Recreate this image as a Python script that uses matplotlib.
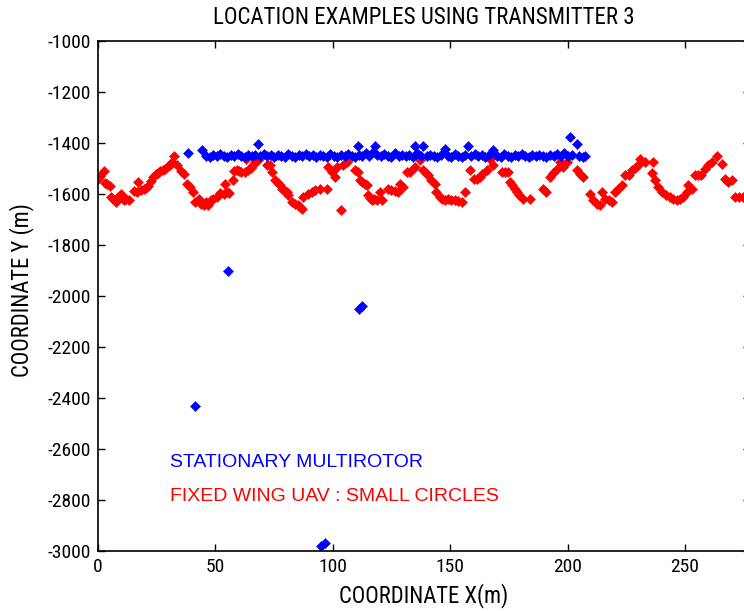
import matplotlib
matplotlib.use("Agg")
import matplotlib.pyplot as plt
from matplotlib import font_manager

names = {f.name for f in font_manager.fontManager.ttflist}
NARROW = next((n for n in ['Roboto Condensed', 'Liberation Sans Narrow', 'Arial Narrow',
                           'Archivo Narrow', 'PT Sans Narrow', 'Liberation Sans'] if n in names),
              'DejaVu Sans')
REG = 'Liberation Sans'

# Fixed wing UAV estimated positions (red)
red_x = [0, 1, 2.5, 3, 4, 5, 5.5, 6.5, 7.5, 8.5, 10, 11, 12, 13, 15.5, 16.5, 17, 18.5, 19.5, 20.5,
         21.5, 22.5, 23.5, 24.5, 25.5, 26.5, 27.5, 28.5, 29.5, 30.5, 31.5, 32.5, 33.5, 35.5, 36.5, 38,
         39, 40.5, 41.3, 43, 44, 45, 46, 47, 48, 49, 50.5, 52, 53.5, 54.1, 55, 56, 57.6, 58, 59, 60,
         61, 62.5, 63, 64, 65, 66.2, 67, 68, 69, 72, 73.3, 74, 75.4, 76.5, 77.5, 78.2, 79.3, 80.4, 81,
         82.5, 84, 85, 86, 87, 87.5, 89.6, 91, 92.5, 94.6, 97.4, 98.1, 99.5, 101, 102, 103.3, 104.5,
         106, 109.5, 110.9, 111.5, 112.5, 113.7, 114.4, 115, 116, 116.6, 117.5, 119, 120, 121, 123.6,
         125, 126.5, 127.9, 128.6, 130, 131.4, 132.9, 135, 137, 138.6, 139.7, 140.7, 142, 143.5, 144,
         145.6, 146.7, 147.8, 149, 150.5, 152, 153.5, 154.9, 156.3, 158.5, 160, 161.3, 162.7, 163.4,
         165.5, 167, 168.4, 172, 173.5, 174.8, 175.5, 176.5, 177.6, 178.3, 179.5, 181, 184, 189.6, 191,
         192.5, 193.8, 195.3, 196.8, 198, 199.6, 203.9, 205.3, 206.7, 209.5, 211, 212.5, 214, 214.5,
         216, 217.5, 218.8, 220, 221.5, 223, 224.5, 226, 227.3, 228.7, 230, 231, 233, 236, 236.5,
         237.3, 238.7, 240, 242, 243.6, 245, 246.5, 248, 249.3, 250.7, 251.4, 252.9, 254.3, 255.7, 257,
         258.5, 260, 261.4, 263.5, 265.6, 267, 268.5, 270, 271.5, 273, 274.5, 276]
red_y = [-1540, -1530, -1510, -1555, -1560, -1570, -1612, -1618, -1630, -1610, -1600, -1622, -1618,
         -1625, -1590, -1592, -1553, -1585, -1580, -1575, -1570, -1548, -1535, -1522, -1518, -1510,
         -1505, -1500, -1494, -1488, -1475, -1452, -1488, -1510, -1520, -1560, -1572, -1592, -1631,
         -1620, -1640, -1645, -1632, -1645, -1625, -1620, -1612, -1598, -1600, -1560, -1592, -1595,
         -1544, -1510, -1507, -1510, -1512, -1514, -1461, -1507, -1498, -1488, -1475, -1465, -1455,
         -1488, -1488, -1514, -1546, -1556, -1566, -1579, -1585, -1592, -1605, -1631, -1638, -1645,
         -1650, -1657, -1612, -1599, -1592, -1585, -1579, -1579, -1494, -1514, -1533, -1494, -1664,
         -1485, -1475, -1507, -1514, -1546, -1552, -1560, -1566, -1605, -1615, -1625, -1618, -1622,
         -1592, -1625, -1579, -1583, -1588, -1592, -1560, -1572, -1514, -1514, -1494, -1465, -1507,
         -1518, -1527, -1546, -1560, -1592, -1612, -1618, -1625, -1618, -1625, -1622, -1628, -1631,
         -1592, -1505, -1540, -1540, -1533, -1520, -1507, -1461, -1488, -1514, -1514, -1514, -1553,
         -1566, -1579, -1592, -1605, -1618, -1618, -1579, -1592, -1533, -1516, -1500, -1475, -1494,
         -1475, -1507, -1520, -1533, -1599, -1625, -1638, -1644, -1592, -1618, -1625, -1631, -1592,
         -1580, -1566, -1527, -1527, -1507, -1497, -1488, -1461, -1475, -1518, -1475, -1546, -1572,
         -1592, -1605, -1612, -1618, -1625, -1620, -1612, -1592, -1566, -1579, -1527, -1527, -1527,
         -1500, -1488, -1475, -1452, -1481, -1540, -1553, -1545, -1612, -1612, -1612, -1610]

# Stationary multirotor estimated positions (blue)
blue_x = [38.2, 44.5, 46, 47.5, 49, 50.5, 52, 53.5, 55, 56.5, 58, 59.5, 61, 62.5, 64, 65.5, 67, 68.3,
          69, 70.5, 72, 73.5, 75, 76.5, 78, 79.5, 81, 82.5, 84, 85.5, 87, 88.5, 90, 91.5, 93, 94.5,
          96, 97.5, 99, 100.5, 102, 103.5, 105, 106.5, 108, 109.5, 110.6, 111, 112.5, 114, 115.5, 117,
          118, 119, 120.5, 122, 123.5, 125, 126.5, 128, 129.5, 131, 132.5, 134, 135, 136, 137.5, 138.6,
          140, 141.5, 143, 144.5, 146, 147.8, 149, 150.5, 152, 153.5, 155, 156.5, 157.7, 159, 160.5,
          162, 163.5, 165, 166.5, 168.4, 170, 171.5, 173, 174.5, 176, 177.5, 179, 180.5, 182, 183.5,
          185, 186.5, 188, 189.5, 191, 192.5, 194, 195.5, 197, 198.5, 200, 201, 202, 203.9, 205,
          206.5, 207.5, 41.3, 55.5, 111, 112.5, 95, 96.5]
blue_y = [-1440, -1428, -1450, -1455, -1448, -1452, -1445, -1450, -1455, -1447, -1452, -1445, -1450,
          -1455, -1448, -1452, -1446, -1405, -1450, -1444, -1452, -1448, -1455, -1446, -1450, -1453,
          -1445, -1450, -1455, -1447, -1450, -1443, -1452, -1448, -1455, -1446, -1450, -1453, -1445,
          -1450, -1455, -1448, -1452, -1444, -1450, -1455, -1413, -1447, -1450, -1440, -1452, -1436,
          -1413, -1448, -1452, -1445, -1450, -1455, -1440, -1450, -1446, -1452, -1448, -1455, -1413,
          -1440, -1450, -1413, -1452, -1446, -1450, -1455, -1448, -1422, -1450, -1453, -1445, -1450,
          -1455, -1447, -1413, -1450, -1445, -1452, -1448, -1455, -1446, -1426, -1450, -1453, -1445,
          -1450, -1455, -1447, -1452, -1445, -1450, -1455, -1448, -1452, -1446, -1450, -1455, -1447,
          -1452, -1445, -1450, -1440, -1452, -1376, -1448, -1405, -1450, -1455, -1450,
          -2430, -1901, -2050, -2040, -2980, -2968]

x_ticks = [0, 50, 100, 150, 200, 250]
y_ticks = [-3000, -2800, -2600, -2400, -2200, -2000, -1800, -1600, -1400, -1200, -1000]

W, H = 744, 611
fig = plt.figure(figsize=(W / 100, H / 100), dpi=100)
left, right, bottom, top = 98, 750, 551, 41
ax = fig.add_axes([left / W, (H - bottom) / H, (right - left) / W, (bottom - top) / H])

ax.plot(red_x, red_y, linestyle='none', marker='D', ms=4.6, color='#ff0000', mec='#ff0000', mew=0.4)
ax.plot(blue_x, blue_y, linestyle='none', marker='D', ms=4.6, color='#0000ff', mec='#0000ff', mew=0.4)

ax.set_xlim(0, (right - left) / 2.348)
ax.set_ylim(-3000, -1000)
ax.set_xticks(x_ticks)
ax.set_yticks(y_ticks)
ax.set_xticklabels([str(t) for t in x_ticks], family=NARROW, fontsize=14)
ax.set_yticklabels([str(t) for t in y_ticks], family=NARROW, fontsize=14)
ax.tick_params(direction='in', length=5, width=1, top=True, right=True, pad=5, colors='black')
for s in ax.spines.values():
    s.set_linewidth(1.2)
    s.set_color('black')

cx = (left + right) / 2 / W
fig.text(cx, 1 - 18 / H, 'LOCATION EXAMPLES USING TRANSMITTER 3', ha='center', va='center',
         family=NARROW, fontsize=16.5)
fig.text(cx, 1 - 596 / H, 'COORDINATE X(m)', ha='center', va='center', family=NARROW,
         fontsize=16.3)
fig.text(22 / W, 1 - 290 / H, 'COORDINATE Y (m)', ha='center', va='center', rotation=90,
         family=NARROW, fontsize=16.3)

ax.text(30.7, -2652, 'STATIONARY MULTIROTOR', color='#0000ff', ha='left', va='center',
        family=REG, fontsize=14)
ax.text(30.7, -2787, 'FIXED WING UAV : SMALL CIRCLES', color='#ff0000', ha='left', va='center',
        family=REG, fontsize=14)

fig.savefig('out.png', dpi=100)
